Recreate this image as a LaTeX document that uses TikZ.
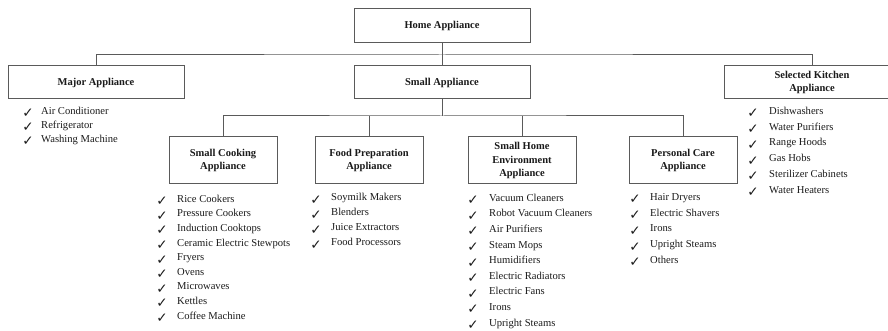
\documentclass[tikz,border=0pt]{standalone}
\usepackage{fontspec}
\setmainfont{Liberation Serif}
\newfontfamily\symfont{DejaVu Sans}
\definecolor{ln}{HTML}{5A5A5A}
\definecolor{tx}{HTML}{1A1A1A}
\begin{document}
\begin{tikzpicture}[x=1pt,y=-1pt,
  box/.style={draw=ln,line width=1pt,fill=white,inner sep=0pt,align=center,
    font=\fontsize{10.5}{13.5}\selectfont\bfseries,text=tx},
  topbox/.style={box,minimum width=176pt,minimum height=33pt},
  subbox/.style={box,minimum width=108pt,minimum height=47pt},
  conn/.style={draw=ln,line width=1pt},
  item/.style={anchor=mid west,inner sep=0pt,font=\fontsize{10.6}{12}\selectfont,text=tx},
  chk/.style={anchor=center,inner sep=0pt,font=\symfont\fontsize{13.5}{14}\selectfont,text=tx}]
\clip (0,0) rectangle (888,331);
\useasboundingbox (0,0) rectangle (888,331);

\node[topbox,minimum height=34pt] (home) at (442,26) {Home Appliance};
\node[topbox] (major) at (96,82.5) {Major Appliance};
\node[topbox] (small) at (442,82.5) {Small Appliance};
\node[topbox] (sel) at (812,82.5) {Selected Kitchen\\Appliance};

\node[subbox] (sc) at (223,160.5) {Small Cooking\\Appliance};
\node[subbox] (fp) at (369,160.5) {Food Preparation\\Appliance};
\node[subbox] (she) at (522,160.5) {Small Home\\Environment\\Appliance};
\node[subbox] (pc) at (683,160.5) {Personal Care\\Appliance};

\coordinate (bus1) at (442,55);
\coordinate (bus2) at (442,116);
\draw[conn] (home.south) -- (small.north);
\draw[conn] (major.north) |- (bus1) -| (sel.north);
\draw[conn] (small.south) -- (bus2);
\draw[conn] (sc.north) |- (bus2) -| (pc.north);
\draw[conn] (fp.north) -- (fp.north |- bus2);
\draw[conn] (she.north) -- (she.north |- bus2);

% lists
\foreach \t [count=\i] in {Air Conditioner,Refrigerator,Washing Machine}{
  \node[chk] (mjc\i) at (28,{112+14*(\i-1)+1.5}) {✓};
  \node[item] (mj\i) at (41,{112+14*(\i-1)}) {\t};}
\foreach \t [count=\i] in {Rice Cookers,Pressure Cookers,Induction Cooktops,Ceramic Electric Stewpots,Fryers,Ovens,Microwaves,Kettles,Coffee Machine}{
  \node[chk] (scc\i) at (162,{200+14.6*(\i-1)+1.5}) {✓};
  \node[item] (sci\i) at (177,{200+14.6*(\i-1)}) {\t};}
\foreach \t [count=\i] in {Soymilk Makers,Blenders,Juice Extractors,Food Processors}{
  \node[chk] (fpc\i) at (316,{199+15*(\i-1)+1.5}) {✓};
  \node[item] (fpi\i) at (331,{198.5+15*(\i-1)}) {\t};}
\foreach \t [count=\i] in {Vacuum Cleaners,Robot Vacuum Cleaners,Air Purifiers,Steam Mops,Humidifiers,Electric Radiators,Electric Fans,Irons,Upright Steams}{
  \node[chk] (shec\i) at (473,{199+15.6*(\i-1)+1.5}) {✓};
  \node[item] (shei\i) at (489,{199+15.6*(\i-1)}) {\t};}
\foreach \t [count=\i] in {Hair Dryers,Electric Shavers,Irons,Upright Steams,Others}{
  \node[chk] (pcc\i) at (635,{198+15.75*(\i-1)+1.5}) {✓};
  \node[item] (pci\i) at (650,{198+15.75*(\i-1)}) {\t};}
\foreach \t [count=\i] in {Dishwashers,Water Purifiers,Range Hoods,Gas Hobs,Sterilizer Cabinets,Water Heaters}{
  \node[chk] (skc\i) at (753,{112+15.8*(\i-1)+1.5}) {✓};
  \node[item] (ski\i) at (769,{112+15.8*(\i-1)}) {\t};}
\end{tikzpicture}
\end{document}
